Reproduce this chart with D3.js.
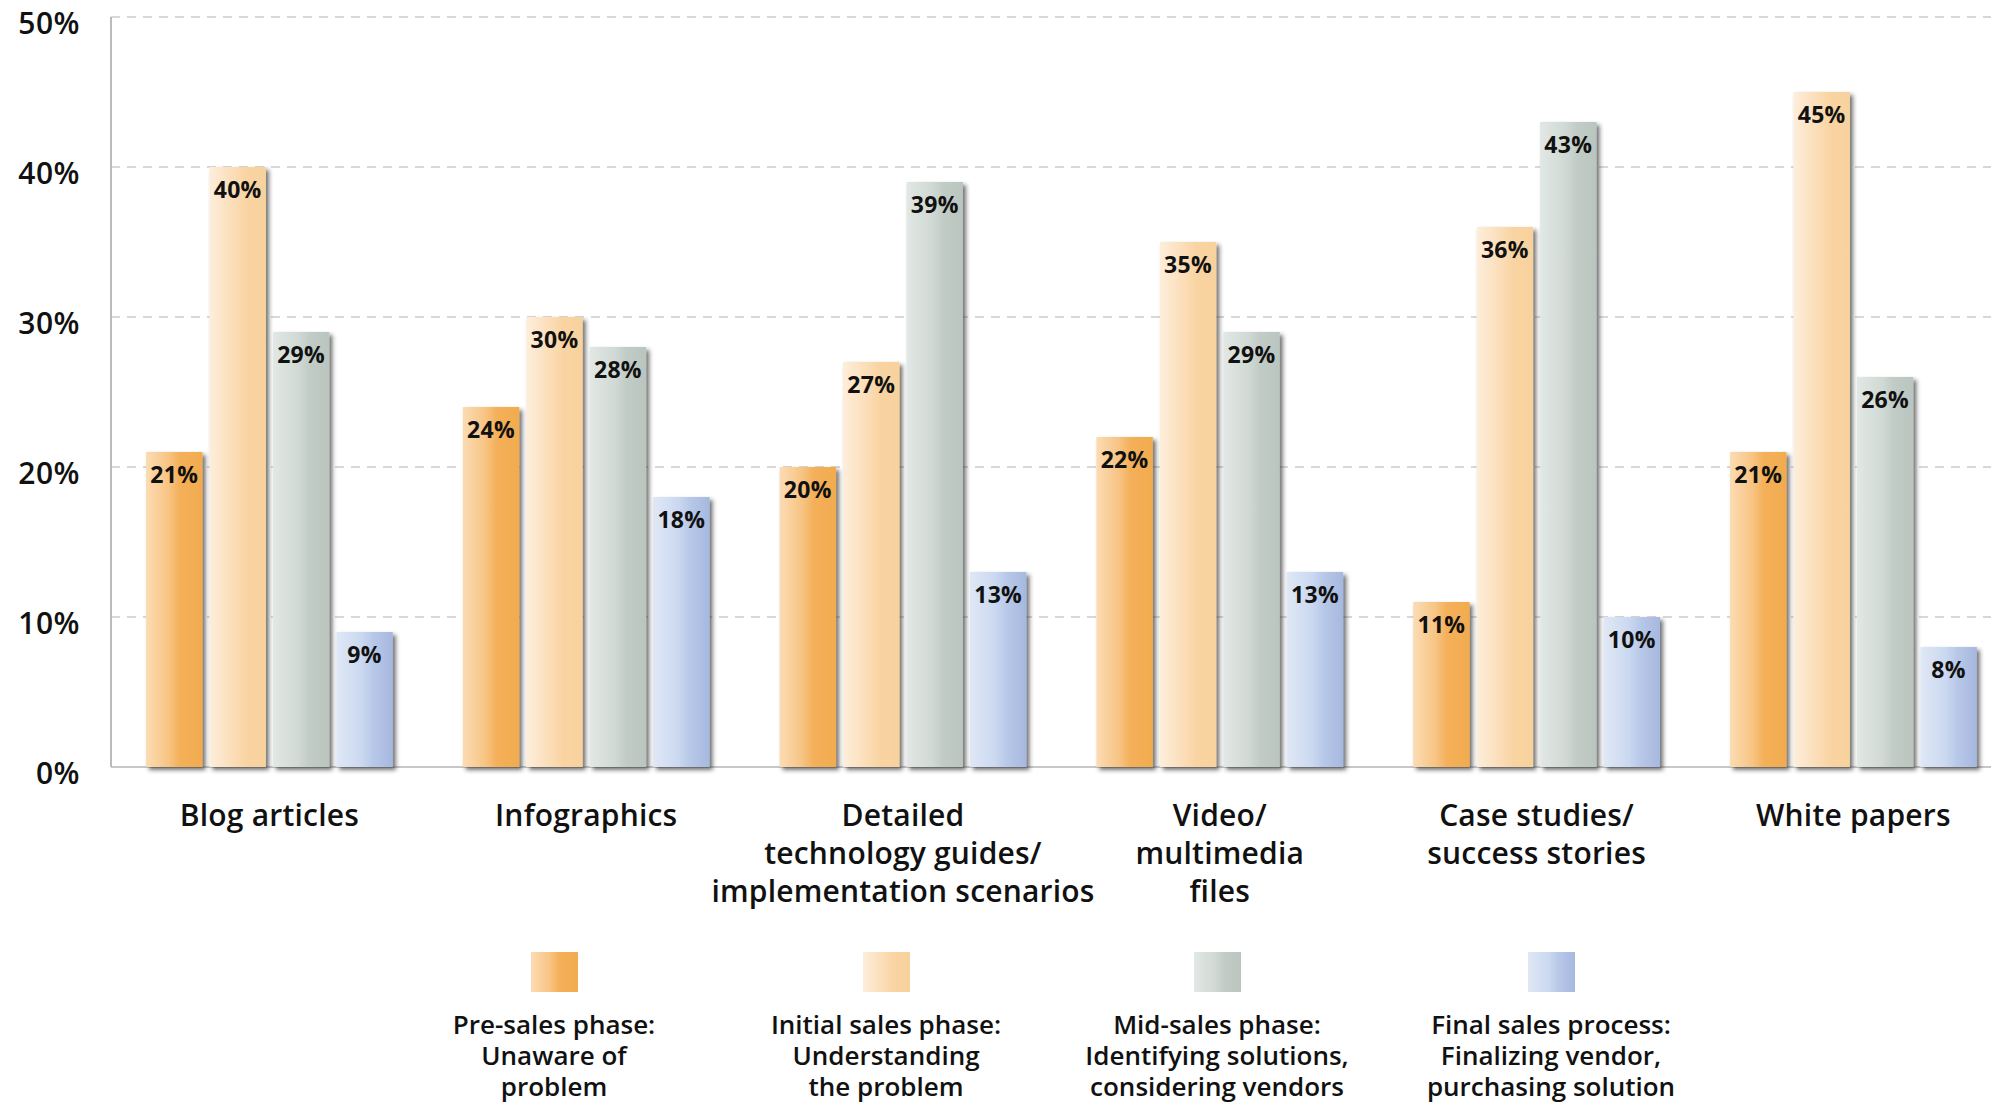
<!DOCTYPE html>
<html>
<head>
<meta charset="utf-8">
<script src="https://cdn.jsdelivr.net/npm/d3@7"></script>
<style>
  html, body { margin: 0; padding: 0; background: #ffffff; }
  svg { display: block; }
  text { font-family: "Open Sans", Lato, sans-serif; fill: #111; }
</style>
</head>
<body>
<svg id="chart" width="1991" height="1102"></svg>
<script>
const categories = [
  ["Blog articles"],
  ["Infographics"],
  ["Detailed", "technology guides/", "implementation scenarios"],
  ["Video/", "multimedia", "files"],
  ["Case studies/", "success stories"],
  ["White papers"]
];
const seriesNames = ["Pre-sales", "Initial", "Mid", "Final"];
const legendLabels = [
  ["Pre-sales phase:", "Unaware of", "problem"],
  ["Initial sales phase:", "Understanding", "the problem"],
  ["Mid-sales phase:", "Identifying solutions,", "considering vendors"],
  ["Final sales process:", "Finalizing vendor,", "purchasing solution"]
];
const preSales  = [21, 24, 20, 22, 11, 21];
const initial   = [40, 30, 27, 35, 36, 45];
const midSales  = [29, 28, 39, 29, 43, 26];
const finalSales = [9, 18, 13, 13, 10, 8];
const yTicks = [0, 10, 20, 30, 40, 50];

const seriesValues = [preSales, initial, midSales, finalSales];
const gradStops = [
  [["0%", "#fcdcb4"], ["40%", "#f7c483"], ["60%", "#f4b05a"], ["100%", "#f2ab4e"]],
  [["0%", "#fdeedc"], ["45%", "#fbdcb5"], ["65%", "#f9d4a2"], ["100%", "#f8d29d"]],
  [["0%", "#e2e8e5"], ["45%", "#d0d9d4"], ["65%", "#c2ccc6"], ["100%", "#b9c5be"]],
  [["0%", "#e0e8f6"], ["45%", "#cad8f0"], ["65%", "#b8c8e8"], ["100%", "#a7b8df"]]
];

const svg = d3.select("#chart");
const defs = svg.append("defs");
gradStops.forEach((stops, i) => {
  const g = defs.append("linearGradient").attr("id", "grad" + i)
    .attr("x1", "0%").attr("x2", "100%").attr("y1", "0%").attr("y2", "0%");
  stops.forEach(s => g.append("stop").attr("offset", s[0]).attr("stop-color", s[1]));
});
const flt = defs.append("filter").attr("id", "shadow")
  .attr("x", "-20%").attr("y", "-5%").attr("width", "150%").attr("height", "115%");
flt.append("feDropShadow").attr("dx", 3).attr("dy", 3).attr("stdDeviation", 2)
  .attr("flood-color", "#222").attr("flood-opacity", 0.65);

const plotLeft = 111, plotTop = 17, plotBottom = 767;
const y = d3.scaleLinear().domain([0, 50]).range([plotBottom, plotTop]);
const x0 = d3.scaleBand().domain(d3.range(categories.length))
  .range([plotLeft, plotLeft + 6 * 316.8]).paddingInner(0.2209).paddingOuter(0.11045);
const x1 = d3.scaleBand().domain(d3.range(seriesNames.length))
  .range([0, x0.bandwidth()]).paddingInner(0.11).paddingOuter(0);

// gridlines
svg.append("g").selectAll("line").data(yTicks.filter(t => t > 0)).join("line")
  .attr("x1", plotLeft).attr("x2", 1991)
  .attr("y1", d => y(d)).attr("y2", d => y(d))
  .attr("stroke", "#cccccc").attr("stroke-width", 1.5)
  .attr("stroke-dasharray", "9,7");
// baseline
svg.append("line").attr("x1", plotLeft).attr("x2", 1991).attr("y1", y(0)).attr("y2", y(0))
  .attr("stroke", "#c8c8c8").attr("stroke-width", 2);
// y axis line
svg.append("line").attr("x1", plotLeft).attr("x2", plotLeft).attr("y1", y(50)).attr("y2", y(0))
  .attr("stroke", "#bbbbbb").attr("stroke-width", 2);

// y tick labels
svg.append("g").selectAll("text").data(yTicks).join("text")
  .attr("x", 80).attr("y", d => y(d) + 6)
  .attr("dy", "0.35em").attr("text-anchor", "end")
  .style("font-size", "30px").style("font-weight", 600)
  .style("letter-spacing", "0.5px")
  .text(d => d + "%");

// bars
const groups = svg.append("g").selectAll("g").data(categories).join("g")
  .attr("transform", (d, i) => `translate(${x0(i)},0)`);
groups.each(function(cat, ci) {
  const g = d3.select(this);
  seriesValues.forEach((vals, si) => {
    const v = vals[ci];
    g.append("rect")
      .attr("x", x1(si)).attr("width", x1.bandwidth())
      .attr("y", y(v)).attr("height", y(0) - y(v))
      .attr("fill", `url(#grad${si})`)
      .attr("filter", "url(#shadow)");
    g.append("text")
      .attr("x", x1(si) + x1.bandwidth() / 2).attr("y", y(v) + 31)
      .attr("text-anchor", "middle")
      .style("font-size", "23px").style("font-weight", 700)
      .style("letter-spacing", "0.3px")
      .text(v + "%");
  });
});

// category labels
svg.append("g").selectAll("text").data(categories).join("text")
  .attr("text-anchor", "middle")
  .attr("x", (d, i) => x0(i) + x0.bandwidth() / 2)
  .attr("y", 826)
  .style("font-size", "30px").style("font-weight", 600)
  .style("letter-spacing", "0.2px")
  .each(function(lines) {
    const cx = d3.select(this).attr("x");
    d3.select(this).selectAll("tspan").data(lines).join("tspan")
      .attr("x", cx)
      .attr("dy", (d, i) => i === 0 ? 0 : 38)
      .text(d => d);
  });

// legend
const legendCenters = [554, 886, 1217, 1551];
const lg = svg.append("g").selectAll("g").data(legendLabels).join("g")
  .attr("transform", (d, i) => `translate(${legendCenters[i]},0)`);
lg.append("rect").attr("x", -23).attr("y", 952).attr("width", 47).attr("height", 40)
  .attr("fill", (d, i) => `url(#grad${i})`);
lg.append("text").attr("text-anchor", "middle").attr("y", 1034)
  .style("font-size", "26px").style("font-weight", 600)
  .each(function(lines) {
    d3.select(this).selectAll("tspan").data(lines).join("tspan")
      .attr("x", 0).attr("dy", (d, i) => i === 0 ? 0 : 31)
      .text(d => d);
  });
</script>
</body>
</html>
